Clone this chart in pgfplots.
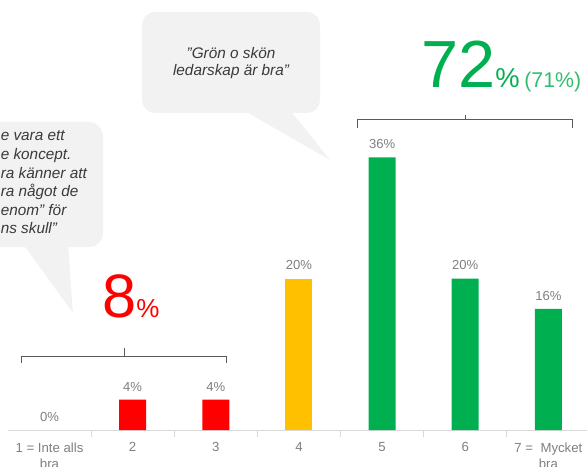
\documentclass[border=0pt]{standalone}
\usepackage{fontspec}
\setmainfont{Liberation Sans}
\usepackage{pgfplots}
\pgfplotsset{compat=1.18}

\definecolor{barred}{HTML}{FF0000}
\definecolor{baryellow}{HTML}{FFC000}
\definecolor{bargreen}{HTML}{00B050}
\definecolor{lightgreen}{HTML}{33BD6F}
\definecolor{labelgray}{HTML}{7F7F7F}
\definecolor{axisgray}{HTML}{D9D9D9}
\definecolor{bubblegray}{HTML}{F2F2F2}
\definecolor{bubbletext}{HTML}{3A3A3A}
\definecolor{bracketgray}{HTML}{595959}

\begin{document}
\begin{tikzpicture}
\begin{axis}[
    scale only axis,
    x=62.36pt, y=5.681pt,
    xmin=0.5, xmax=7.5, ymin=0, ymax=56.77,
    axis y line=none, axis x line*=bottom,
    axis line style={draw=axisgray, line width=0.75pt},
    ybar, bar width=20.25pt, bar shift=0pt,
    xtick={1,...,7},
    xticklabels={{1 = Inte alls\\bra},2,3,4,5,6,{7 = \ Mycket\\bra}},
    major tick length=0pt,
    minor xtick={1.5,2.5,...,6.5},
    minor tick length=5pt, tick align=outside,
    minor tick style={draw=axisgray, line width=0.75pt},
    xticklabel style={font=\fontsize{9.9}{12.4}\selectfont, text=labelgray, align=center, yshift=-6pt},
    /pgf/number format/assume math mode=true,
    nodes near coords={\pgfmathprintnumber{\pgfplotspointmeta}\%},
    every node near coord/.append style={font=\fontsize{9.8}{11}\selectfont, text=labelgray, anchor=base, yshift=6.4pt},
    clip=false,
]
\addplot[fill=none, draw=none] coordinates {(1,0)};
\addplot[fill=barred, draw=none] coordinates {(2,4) (3,4)};
\addplot[fill=baryellow, draw=none] coordinates {(4,20)};
\addplot[fill=bargreen, draw=none] coordinates {(5,36) (6,20) (7,16)};
\coordinate (tl) at (axis cs:0.4047,56.77);
\coordinate (br) at (axis cs:7.4643,-4.752);
\end{axis}

% annotations in pixel units of the reference
\begin{scope}[shift={(tl)}, x=0.75pt, y=-0.75pt]
  % speech bubbles
  \fill[bubblegray, rounded corners=9.75pt] (142,12) rectangle (320,113);
  \fill[bubblegray] (243,110) -- (290,110) -- (330,160) -- cycle;
  \fill[bubblegray, rounded corners=10.5pt] (-60,122) rectangle (103,247);
  \fill[bubblegray] (23,244) -- (68,244) -- (73,313) -- cycle;
  \begin{scope}[every node/.style={inner sep=0pt, text=bubbletext, font=\fontsize{11.5}{13}\selectfont\itshape}]
    \node[anchor=base] at (231,59) {”Grön o skön};
    \node[anchor=base] at (231,76) {ledarskap är bra”};
    \node[anchor=base west] at (0.5,141) {e vara ett};
    \node[anchor=base west] at (0.5,159.5) {e koncept.};
    \node[anchor=base west] at (0.5,178) {ra känner att};
    \node[anchor=base west] at (0.5,196.5) {ra något de};
    \node[anchor=base west] at (0.5,215) {enom" för};
    \node[anchor=base west] at (0.5,233.5) {ns skull”};
  \end{scope}
  % brackets
  \draw[bracketgray, line width=0.75pt] (21,363) -- (21,356) -- (226,356) -- (226,363);
  \draw[bracketgray, line width=0.75pt] (124,356) -- (124,348);
  \draw[bracketgray, line width=0.75pt] (357,128) -- (357,120) -- (572,120) -- (572,128);
  \draw[bracketgray, line width=0.75pt] (465,120) -- (465,115);
  % big totals
  \node[anchor=base west, inner sep=0pt, text=barred] at (102,317)
    {{\fontsize{46}{46}\selectfont 8}{\fontsize{19.5}{20}\selectfont\%}};
  \node[anchor=base west, inner sep=0pt, text=bargreen] at (421,88)
    {{\fontsize{50}{50}\selectfont 72}{\fontsize{20.5}{21}\selectfont\%}};
  \node[anchor=base west, inner sep=0pt, text=lightgreen] at (524,88)
    {\fontsize{16}{17}\selectfont (71\%)};
\end{scope}

\pgfresetboundingbox
\path[use as bounding box] (tl) rectangle (br);
\end{tikzpicture}
\end{document}
